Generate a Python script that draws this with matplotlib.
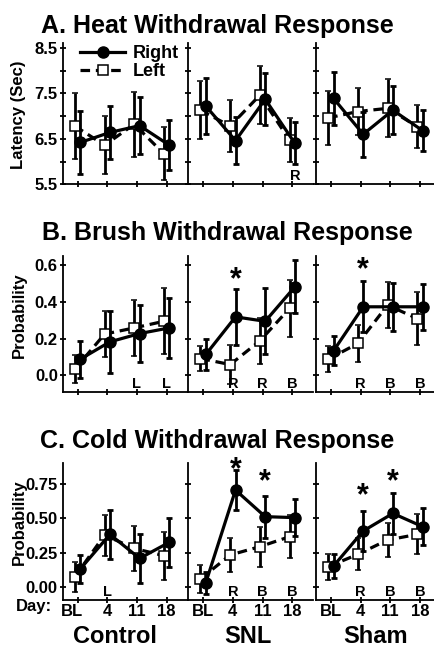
import matplotlib
matplotlib.use("Agg")
import matplotlib.pyplot as plt
from matplotlib.lines import Line2D
from matplotlib.transforms import ScaledTranslation, blended_transform_factory
import numpy as np

plt.rcParams["font.family"] = ["Liberation Sans", "DejaVu Sans"]

groups = ["Control", "SNL", "Sham"]
days = ["BL", "4", "11", "18"]

# A. heat latency (sec); one row per group: Control, SNL, Sham
heat_right = [[6.42, 6.64, 6.79, 6.36], [7.22, 6.46, 7.37, 6.40], [7.39, 6.60, 7.13, 6.68]]
heat_right_err = [[0.70, 0.58, 0.62, 0.55], [0.62, 0.52, 0.57, 0.46], [0.58, 0.50, 0.53, 0.45]]
heat_left = [[6.78, 6.36, 6.82, 6.17], [7.13, 6.78, 7.46, 6.47], [6.96, 7.10, 7.17, 6.77]]
heat_left_err = [[0.72, 0.64, 0.72, 0.58], [0.64, 0.57, 0.64, 0.49], [0.60, 0.51, 0.64, 0.47]]

# B. brush probability
brush_right = [[0.087, 0.182, 0.227, 0.258], [0.113, 0.318, 0.294, 0.482], [0.133, 0.373, 0.373, 0.373]]
brush_right_err = [[0.10, 0.17, 0.155, 0.162], [0.085, 0.153, 0.18, 0.145], [0.08, 0.14, 0.13, 0.125]]
brush_left = [[0.033, 0.224, 0.258, 0.294], [0.091, 0.058, 0.187, 0.364], [0.087, 0.173, 0.382, 0.309]]
brush_left_err = [[0.077, 0.125, 0.153, 0.18], [0.07, 0.105, 0.127, 0.155], [0.07, 0.10, 0.125, 0.147]]

# C. cold probability
cold_right = [[0.129, 0.383, 0.207, 0.325], [0.029, 0.708, 0.513, 0.506], [0.151, 0.408, 0.537, 0.44]]
cold_right_err = [[0.105, 0.18, 0.18, 0.18], [0.08, 0.147, 0.153, 0.137], [0.088, 0.15, 0.15, 0.135]]
cold_left = [[0.073, 0.378, 0.28, 0.227], [0.056, 0.232, 0.293, 0.366], [0.146, 0.237, 0.342, 0.383]]
cold_left_err = [[0.11, 0.15, 0.165, 0.177], [0.10, 0.128, 0.147, 0.159], [0.095, 0.116, 0.128, 0.147]]

# significance letters under the points: (panel, group, day, letter)
letters = [("A", 1, 3, "R"),
           ("B", 0, 2, "L"), ("B", 0, 3, "L"),
           ("B", 1, 1, "R"), ("B", 1, 2, "R"), ("B", 1, 3, "B"),
           ("B", 2, 1, "R"), ("B", 2, 2, "B"), ("B", 2, 3, "B"),
           ("C", 0, 1, "L"),
           ("C", 1, 1, "R"), ("C", 1, 2, "B"), ("C", 1, 3, "B"),
           ("C", 2, 1, "R"), ("C", 2, 2, "B"), ("C", 2, 3, "B")]
# asterisks above the right paw: (panel, group, day, gap above bar in pt)
stars = [("B", 1, 1, 0.5), ("B", 2, 1, 2.0),
         ("C", 1, 1, -6.0), ("C", 1, 2, 4.0),
         ("C", 2, 1, 4.5), ("C", 2, 2, 2.0)]

W, H = 435, 648
fig = plt.figure(figsize=(W / 100, H / 100), dpi=100)

panels = {
    "A": dict(title="A. Heat Withdrawal Response", ylabel="Latency (Sec)",
              right=heat_right, right_err=heat_right_err,
              left=heat_left, left_err=heat_left_err,
              ylim=(5.5, 8.6), yticks=[5.5, 6.5, 7.5, 8.5], ylabels=["5.5", "6.5", "7.5", "8.5"],
              yminor=[6.0, 7.0, 8.0],
              bottom_px=184.3, height_px=141.0, title_y=33, label_y=115),
    "B": dict(title="B. Brush Withdrawal Response", ylabel="Probability",
              right=brush_right, right_err=brush_right_err,
              left=brush_left, left_err=brush_left_err,
              ylim=(-0.09, 0.65), yticks=[0.0, 0.2, 0.4, 0.6], ylabels=["0.0", "0.2", "0.4", "0.6"],
              yminor=[],
              bottom_px=391.7, height_px=135.7, title_y=240, label_y=315),
    "C": dict(title="C. Cold Withdrawal Response", ylabel="Probability",
              right=cold_right, right_err=cold_right_err,
              left=cold_left, left_err=cold_left_err,
              ylim=(-0.098, 0.905), yticks=[0.0, 0.25, 0.5, 0.75],
              ylabels=["0.00", "0.25", "0.50", "0.75"], yminor=[],
              bottom_px=600.0, height_px=136.8, title_y=448, label_y=522),
}

lefts_px = [62.7, 188.3, 316.0]
width_px = 124.7
x = np.arange(len(days))
off = 0.09

axes = {}
for key, p in panels.items():
    for g in range(3):
        ax = fig.add_axes([lefts_px[g] / W, 1 - p["bottom_px"] / H,
                           width_px / W, p["height_px"] / H])
        axes[(key, g)] = ax
        ax.errorbar(x - off, p["left"][g], yerr=p["left_err"][g], fmt="s", ls=(0, (3, 1.8)),
                    color="k", lw=2.3, ms=6.5, mfc="white", mec="k", mew=1.1,
                    elinewidth=2.0, capsize=2.2, capthick=2.0, clip_on=False, zorder=2)
        ax.errorbar(x + off, p["right"][g], yerr=p["right_err"][g], fmt="-o",
                    color="k", lw=2.3, ms=8, elinewidth=2.0, capsize=2.2, capthick=2.0,
                    clip_on=False, zorder=3)
        ax.set_xlim(-0.5, 3.7)
        ax.set_ylim(*p["ylim"])
        for s in ("top", "right"):
            ax.spines[s].set_visible(False)
        for s in ("left", "bottom"):
            ax.spines[s].set_linewidth(1.3)
        ax.set_xticks(x)
        ax.set_yticks(p["yticks"])
        ax.set_yticks(p["yminor"], minor=True)
        ax.tick_params(which="both", direction="inout", length=4, width=1.3, pad=1.5,
                       labelsize=12)
        if g == 0:
            ax.set_yticklabels(p["ylabels"], fontweight="bold")
        else:
            ax.set_yticklabels([])
        if key == "C":
            ax.set_xticklabels(days, fontweight="bold")
            ax.tick_params(axis="x", pad=1)
            if g == 0:
                lab = ax.get_xticklabels()[0]
                lab.set_transform(lab.get_transform() +
                                  ScaledTranslation(-6 / 100, 0, fig.dpi_scale_trans))
        else:
            ax.set_xticklabels([])

    fig.text(0.5 if key != "B" else 0.523, 1 - p["title_y"] / H, p["title"],
             ha="center", va="baseline", fontsize=18, fontweight="bold")
    fig.text(19 / W, 1 - p["label_y"] / H, p["ylabel"], rotation=90,
             ha="center", va="center", fontsize=12, fontweight="bold")

for key, g, d, txt in letters:
    ax = axes[(key, g)]
    tr = blended_transform_factory(ax.transData, ax.transAxes)
    ax.annotate(txt, xy=(d + (0.1 if key == "A" else 0.0), 0), xycoords=tr,
                xytext=(0, 3), textcoords="offset points",
                ha="center", va="baseline", fontsize=10.5, fontweight="bold")

for key, g, d, gap in stars:
    p = panels[key]
    ax = axes[(key, g)]
    top = p["right"][g][d] + p["right_err"][g][d]
    ax.annotate("*", xy=(d + off, top), xytext=(0, gap), textcoords="offset points",
                ha="center", va="baseline", fontsize=22, fontweight="bold",
                annotation_clip=False)

handles = [Line2D([], [], color="k", lw=2.3, marker="o", ms=8),
           Line2D([], [], color="k", lw=2.3, ls=(0, (3, 1.8)), marker="s", ms=6.5,
                  mfc="white", mec="k", mew=1.1)]
axes[("A", 0)].legend(handles, ["Right", "Left"], loc="upper left",
                      bbox_to_anchor=(80 / W, 1 - 45 / H), bbox_transform=fig.transFigure,
                      frameon=False, borderpad=0, borderaxespad=0, handlelength=2.5,
                      handletextpad=0.4, labelspacing=0.05,
                      prop={"size": 13, "weight": "bold"})

fig.text(34 / W, 1 - 611 / H, "Day:", ha="center", va="baseline", fontsize=12,
         fontweight="bold")
group_shift = [-7, 0, 0]
for g, name in enumerate(groups):
    cx = (lefts_px[g] + 2.0 / 4.2 * width_px + group_shift[g]) / W
    fig.text(cx, 1 - 643 / H, name, ha="center", va="baseline", fontsize=17,
             fontweight="bold")

fig.savefig("out.png", dpi=100)
